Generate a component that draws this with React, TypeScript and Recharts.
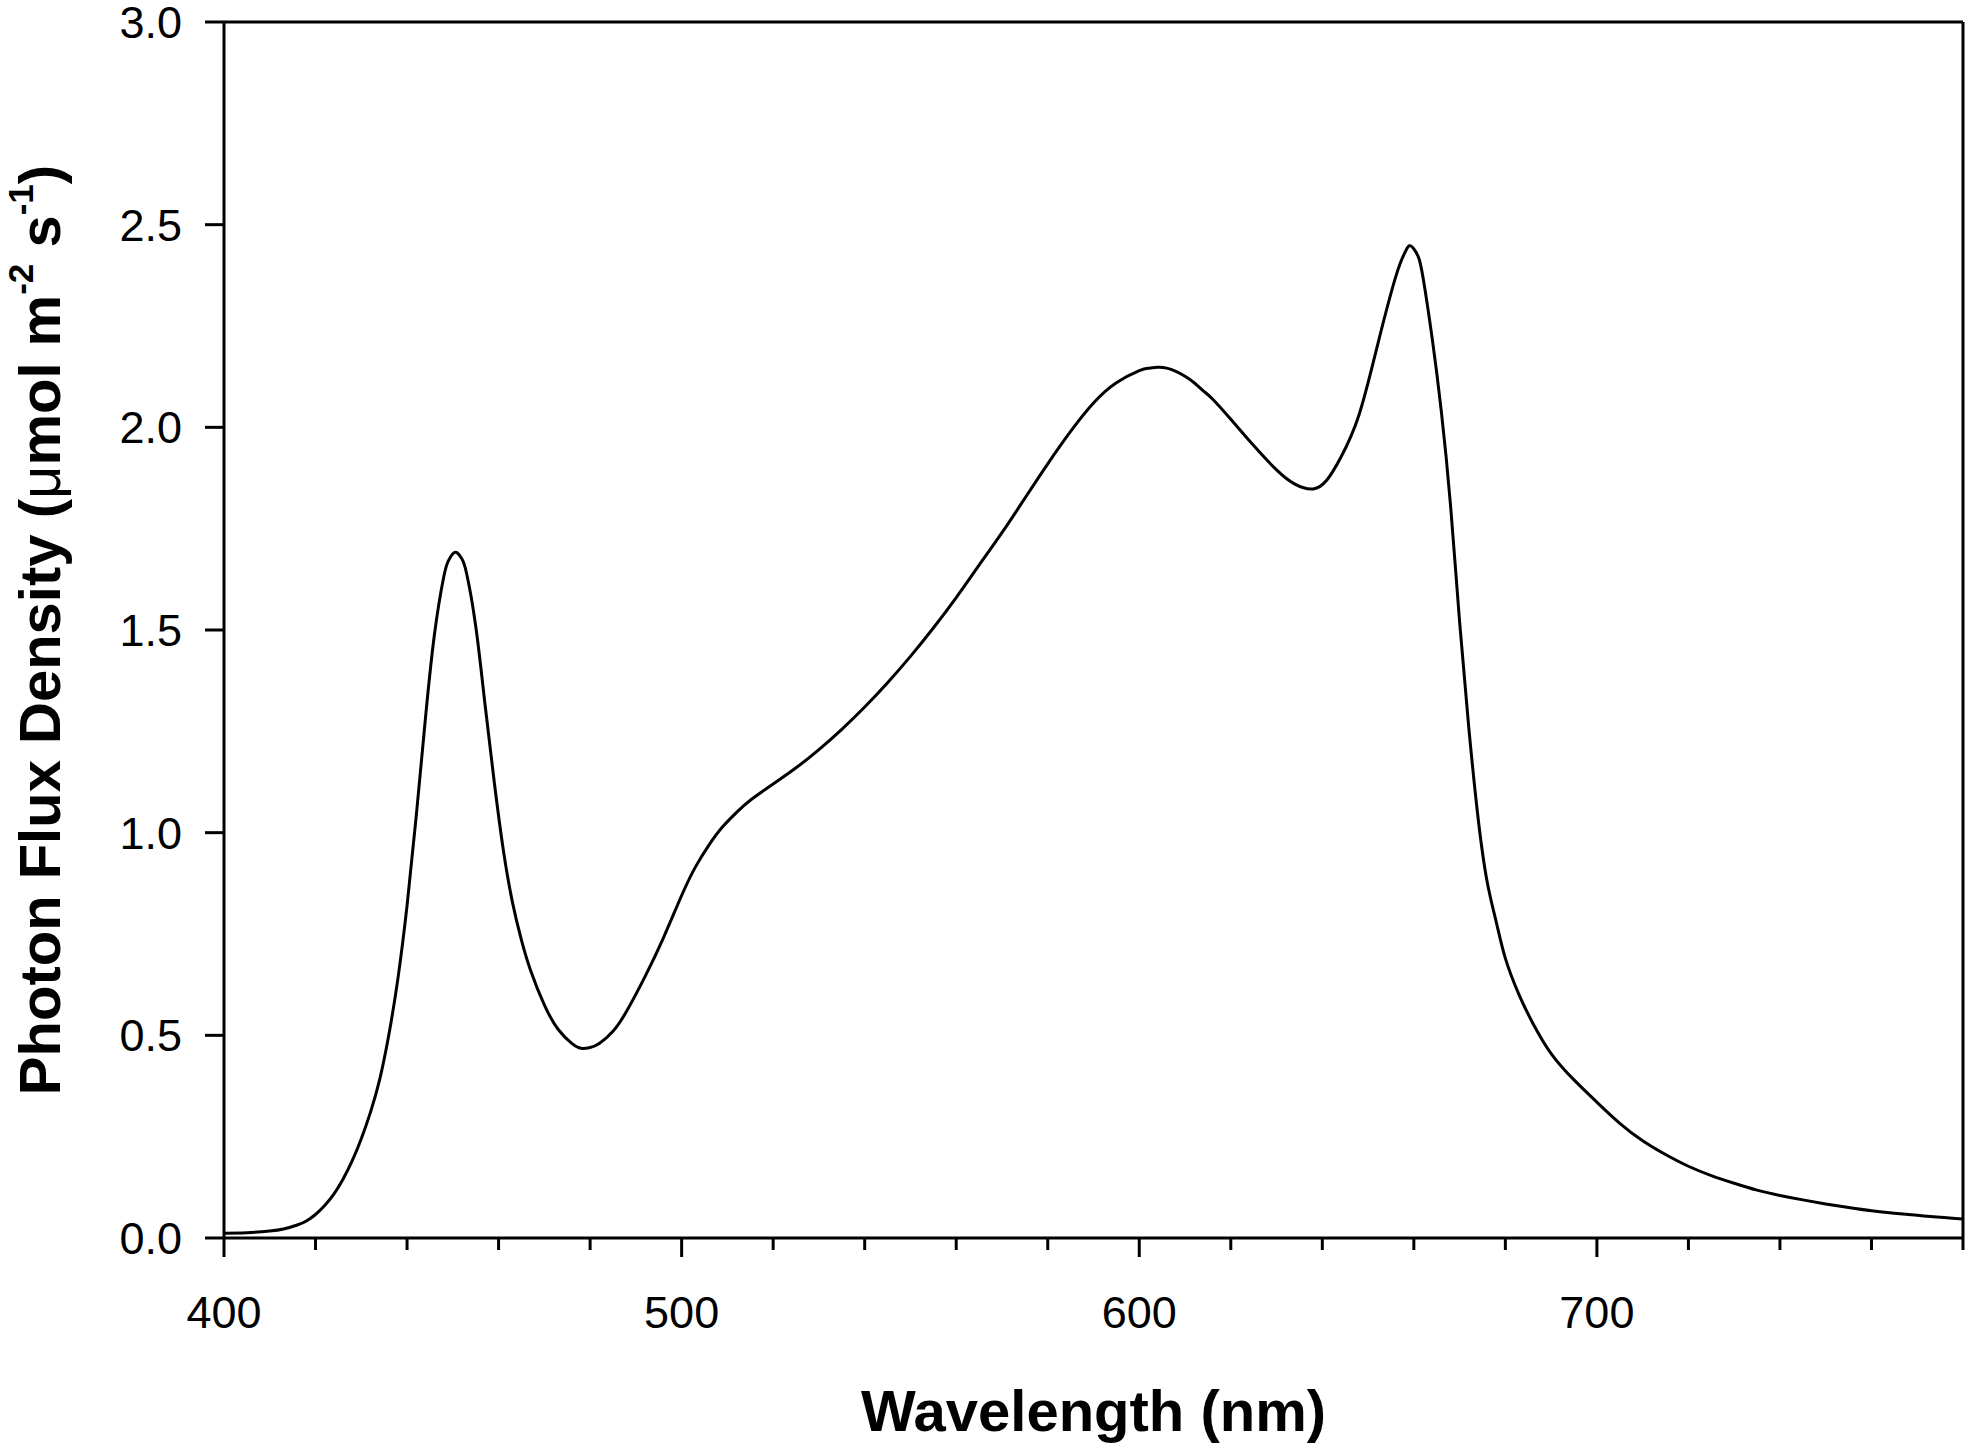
import { LineChart, Line, XAxis, YAxis, ReferenceLine } from 'recharts';

const wavelengths = [
  400, 405, 410, 413, 416, 418, 420, 422, 424, 426, 428, 430, 432, 434, 436, 438, 440, 442,
  444, 446, 448, 449, 450, 451, 452, 453, 455, 457, 459, 461, 463, 465, 467, 470, 473, 476,
  478, 480, 482, 485, 488, 492, 496, 500, 503, 506, 509, 512, 515, 520, 525, 530, 535, 540,
  545, 550, 555, 560, 565, 570, 575, 580, 585, 590, 595, 600, 602, 604, 606, 608, 610, 612,
  614, 616, 620, 625, 630, 634, 638, 641, 644, 648, 652, 656, 658, 659, 660, 661, 662, 664,
  666, 668, 670, 672, 674, 676, 678, 680, 683, 686, 690, 695, 700, 705, 710, 715, 720, 725,
  730, 735, 740, 745, 750, 755, 760, 765, 770, 775, 780,
];

const flux = [
  0.012, 0.013, 0.017, 0.022, 0.032, 0.042, 0.058, 0.08, 0.108, 0.145, 0.19, 0.245, 0.31, 0.39, 0.5, 0.64, 0.82, 1.04,
  1.28, 1.49, 1.63, 1.67, 1.688, 1.69, 1.675, 1.64, 1.51, 1.32, 1.13, 0.96, 0.83, 0.735, 0.66, 0.575, 0.515, 0.48,
  0.468, 0.47, 0.48, 0.51, 0.56, 0.645, 0.74, 0.845, 0.915, 0.97, 1.015, 1.05, 1.08, 1.12, 1.16, 1.205, 1.255, 1.31,
  1.37, 1.435, 1.505, 1.58, 1.66, 1.74, 1.825, 1.91, 1.99, 2.06, 2.11, 2.14, 2.146, 2.148, 2.146, 2.138, 2.126, 2.11,
  2.09, 2.07, 2.02, 1.955, 1.895, 1.86, 1.848, 1.87, 1.925, 2.03, 2.2, 2.37, 2.43, 2.448, 2.44, 2.42, 2.37, 2.22,
  2.04, 1.81, 1.52, 1.26, 1.04, 0.88, 0.78, 0.69, 0.6, 0.53, 0.455, 0.39, 0.335, 0.283, 0.24, 0.206, 0.177, 0.154,
  0.135, 0.118, 0.105, 0.094, 0.084, 0.075, 0.067, 0.061, 0.056, 0.051, 0.047,
];

const xTicks = [400, 420, 440, 460, 480, 500, 520, 540, 560, 580, 600, 620, 640, 660, 680, 700, 720, 740, 760, 780];
const yTicks = [0, 0.5, 1, 1.5, 2, 2.5, 3];

const data = wavelengths.map((w, i) => ({ wl: w, flux: flux[i] }));

const FONT = '"Liberation Sans", Arial, sans-serif';

const XTick = ({ x, y, payload }: { x?: number; y?: number; payload?: { value: number } }) => {
  const v = payload?.value ?? 0;
  const major = v % 100 === 0;
  return (
    <g>
      <line x1={x} x2={x} y1={y} y2={(y ?? 0) + (major ? 19 : 12)} stroke="#000" strokeWidth={3} />
      {major && (
        <text x={x} y={(y ?? 0) + 90} textAnchor="middle" fontSize={45} fontFamily={FONT} fill="#000">
          {v}
        </text>
      )}
    </g>
  );
};

const XTitle = ({ viewBox }: { viewBox?: { x: number; y: number; width: number } }) => {
  const vb = viewBox ?? { x: 224, y: 1238, width: 1739 };
  return (
    <text
      x={vb.x + vb.width / 2}
      y={vb.y + 193}
      textAnchor="middle"
      fontSize={58}
      fontWeight="bold"
      fontFamily={FONT}
      fill="#000"
    >
      Wavelength (nm)
    </text>
  );
};

const YTitle = ({ viewBox }: { viewBox?: { x: number; y: number; height: number } }) => {
  const vb = viewBox ?? { x: 0, y: 22, height: 1216 };
  const cx = 60;
  const cy = vb.y + vb.height / 2;
  return (
    <text
      x={cx}
      y={cy}
      transform={`rotate(-90, ${cx}, ${cy})`}
      textAnchor="middle"
      fontSize={58}
      fontWeight="bold"
      fontFamily={FONT}
      fill="#000"
    >
      Photon Flux Density (
      <tspan fontWeight="normal">μ</tspan>
      mol m
      <tspan fontSize={35} dy={-27}>-2</tspan>
      <tspan dy={27}> s</tspan>
      <tspan fontSize={35} dy={-27}>-1</tspan>
      <tspan dy={27}>)</tspan>
    </text>
  );
};

const App = () => (
  <div style={{ position: 'absolute', left: 0, top: 0 }}>
    <LineChart
      width={1969}
      height={1444}
      data={data}
      margin={{ top: 22, right: 6, left: 0, bottom: 0 }}
    >
      <XAxis
        dataKey="wl"
        type="number"
        domain={[400, 780]}
        ticks={xTicks}
        interval={0}
        height={206}
        axisLine={{ stroke: '#000', strokeWidth: 3 }}
        tickLine={false}
        tickSize={0}
        tickMargin={0}
        tick={<XTick />}
        label={<XTitle />}
        allowDataOverflow
      />
      <YAxis
        type="number"
        domain={[0, 3]}
        ticks={yTicks}
        interval={0}
        width={224}
        axisLine={{ stroke: '#000', strokeWidth: 3 }}
        tickLine={{ stroke: '#000', strokeWidth: 3 }}
        tickSize={19}
        tickMargin={23}
        tickFormatter={(v: number) => v.toFixed(1)}
        tick={{ fill: '#000', fontSize: 45, fontFamily: FONT }}
        label={<YTitle />}
        allowDataOverflow
      />
      <ReferenceLine y={3} stroke="#000" strokeWidth={3} />
      <ReferenceLine x={780} stroke="#000" strokeWidth={3} />
      <Line
        dataKey="flux"
        type="natural"
        stroke="#000"
        strokeWidth={3}
        dot={false}
        isAnimationActive={false}
      />
    </LineChart>
  </div>
);

export default App;
